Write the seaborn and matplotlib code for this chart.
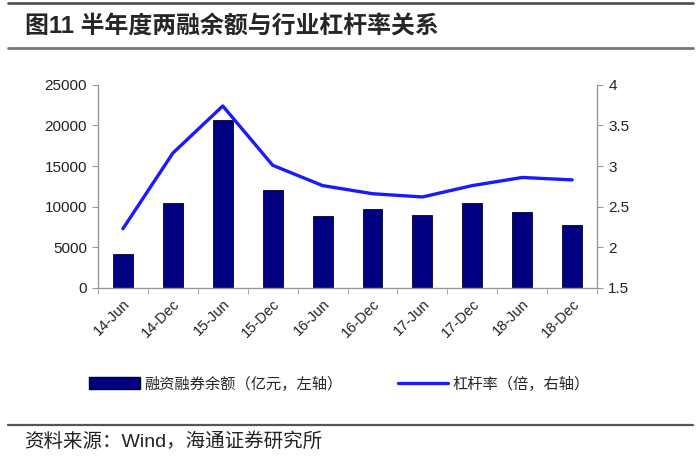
import numpy as np
import pandas as pd
import matplotlib
matplotlib.use("Agg")
import matplotlib.pyplot as plt
import seaborn as sns
from matplotlib.lines import Line2D

periods = ["14-Jun", "14-Dec", "15-Jun", "15-Dec", "16-Jun",
           "16-Dec", "17-Jun", "17-Dec", "18-Jun", "18-Dec"]
balance = [4200, 10400, 20700, 12000, 8800, 9700, 9000, 10400, 9400, 7800]
leverage = [2.23, 3.16, 3.74, 3.01, 2.76, 2.66, 2.62, 2.76, 2.86, 2.83]

bar_label = "融资融券余额（亿元，左轴）"
line_label = "杠杆率（倍，右轴）"

sns.set_style("white")
plt.rcParams["font.family"] = ["Liberation Sans", "Noto Sans CJK SC"]

df = pd.DataFrame({"period": periods, "balance": balance,
                   "leverage": leverage, "pos": range(len(periods))})

fig = plt.figure(figsize=(7, 4.66), dpi=100)
ax = fig.add_axes([0.14, 0.382, 0.713, 0.436])

sns.barplot(data=df, x="period", y="balance", color="#000080",
            saturation=1, width=0.4, edgecolor="#000033", linewidth=0.6, ax=ax)
ax.set_xlim(-0.5, len(periods) - 0.5)
ax.set_ylim(0, 25000)
ax.set_yticks(np.arange(0, 25001, 5000))
ax.set_xlabel("")
ax.set_ylabel("")

ax2 = ax.twinx()
sns.lineplot(data=df, x="pos", y="leverage", color="#1a1aff", linewidth=2.4, ax=ax2)
ax2.set_ylim(1.5, 4)
ax2.set_yticks([1.5, 2, 2.5, 3, 3.5, 4])
ax2.set_yticklabels(["1.5", "2", "2.5", "3", "3.5", "4"])
ax2.set_xlim(-0.5, len(periods) - 0.5)
ax2.set_ylabel("")

# x ticks at category boundaries, labels at centers
ax.set_xticks(np.arange(len(periods)))
ax.set_xticklabels(periods, rotation=45, ha="right", rotation_mode="anchor",
                   fontsize=10.5, color="#222222")
ax.tick_params(axis="x", length=0, pad=6)
ax.set_xticks(np.arange(-0.5, len(periods)), minor=True)
ax.tick_params(axis="x", which="minor", length=4, direction="out", color="#999999", bottom=True)

for a in (ax, ax2):
    for s in a.spines.values():
        s.set_visible(False)
ax.spines["left"].set_visible(True)
ax.spines["bottom"].set_visible(True)
ax2.spines["right"].set_visible(True)
for s in (ax.spines["left"], ax.spines["bottom"], ax2.spines["right"]):
    s.set_color("#999999")
    s.set_linewidth(1)

ax.tick_params(axis="y", left=True, length=4, color="#999999", labelsize=11,
               labelcolor="#222222", pad=4)
ax2.tick_params(axis="y", right=True, length=4, color="#999999", labelsize=11,
                labelcolor="#222222", pad=4)

handles = [plt.Rectangle((0, 0), 1, 1, facecolor="#000080", edgecolor="#000033"),
           Line2D([0], [0], color="#1a1aff", linewidth=2.4)]
fig.legend(handles, [bar_label, line_label], loc="center", bbox_to_anchor=(0.485, 0.176),
           ncol=2, frameon=False, fontsize=11, handlelength=3.3, handleheight=0.85,
           columnspacing=3.6, handletextpad=0.3)

# header / footer rules and texts
fig.add_artist(Line2D([0.012, 0.99], [0.993, 0.993], color="#555555", linewidth=2))
fig.add_artist(Line2D([0.012, 0.99], [0.896, 0.896], color="#777777", linewidth=2))
fig.add_artist(Line2D([0.012, 0.99], [0.088, 0.088], color="#555555", linewidth=1.6))
fig.text(0.035, 0.942, "图11 半年度两融余额与行业杠杆率关系", fontsize=17.2,
         fontweight="bold", va="center", ha="left")
fig.text(0.035, 0.052, "资料来源：Wind，海通证券研究所", fontsize=14,
         va="center", ha="left", color="#222222")

fig.savefig("out.png", dpi=100)
